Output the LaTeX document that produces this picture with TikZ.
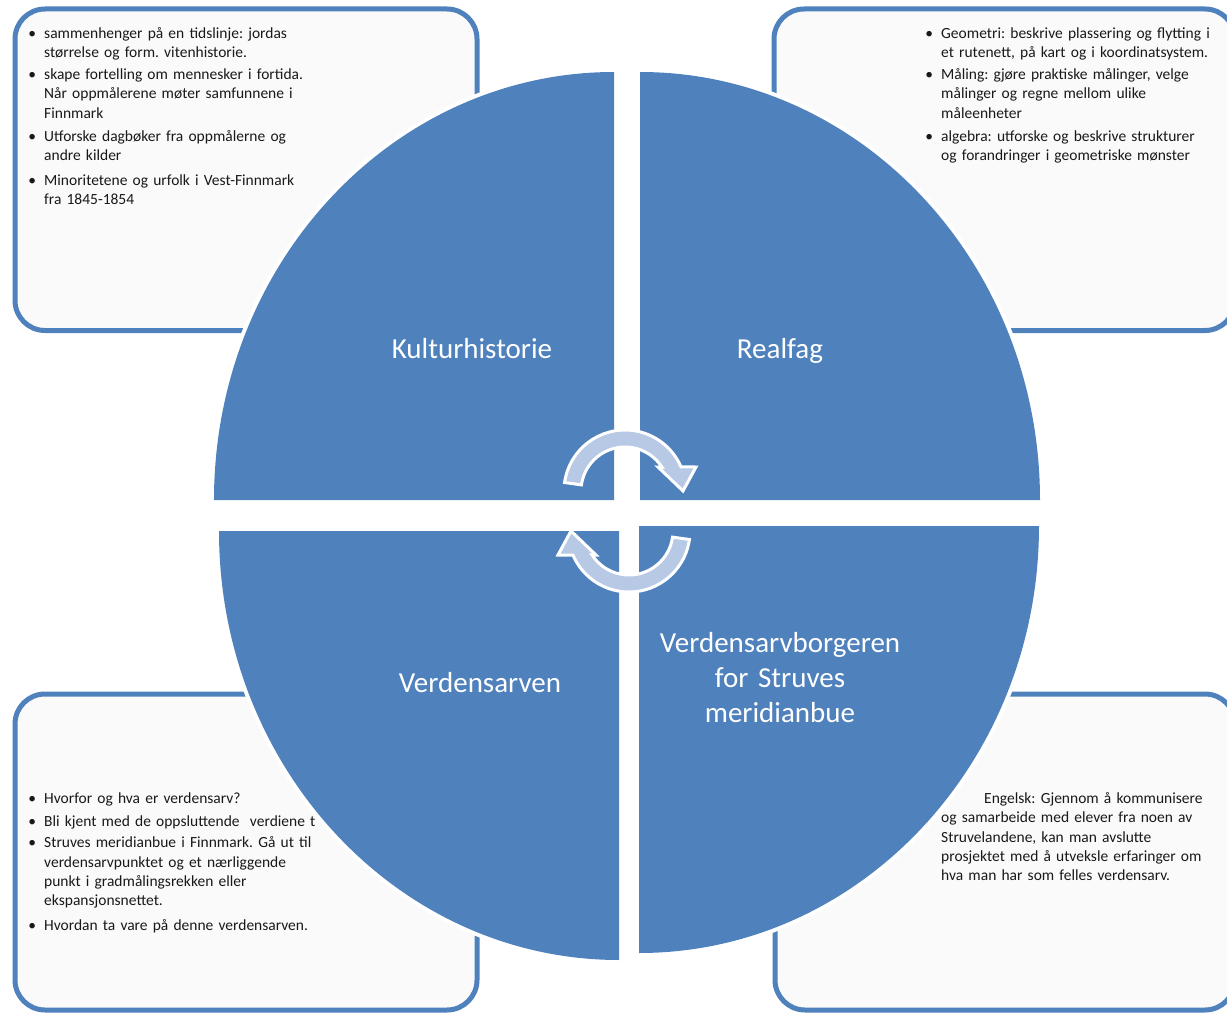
\documentclass[tikz,border=0pt]{standalone}
\usepackage{fontspec}
\setmainfont{Carlito}
\usetikzlibrary{calc}
\definecolor{qblue}{RGB}{79,129,189}
\definecolor{boxfill}{RGB}{250,250,250}
\definecolor{arrowfill}{RGB}{183,201,228}
\newcommand\bul{\llap{\textbullet\hspace{8pt}}}
\newcommand\cycpath{(-172:61) arc[start angle=-172,end angle=-23.2,radius=61] -- (71,-24) -- (58,0) -- (33,-24) -- (-33.05:44) arc[start angle=-33.05,end angle=-172,radius=44] -- cycle}
\frenchspacing
\tikzset{
  panel/.style={draw=qblue, line width=5pt, fill=boxfill, rounded corners=30pt},
  quad/.style={fill=qblue, preaction={draw=white, line width=8pt}},
  itemtext/.style={anchor=base west, inner sep=0pt, text width=330pt, align=left,
    font=\fontsize{15.5}{19.3}\selectfont\frenchspacing, text=black!90},
  qlabel/.style={anchor=base, inner sep=0pt, text width=330pt, align=center,
    font=\fontsize{29}{35}\selectfont, text=white},
  cyc/.style={fill=arrowfill, draw=white, line width=3pt}
}
\begin{document}
\begin{tikzpicture}[x=1pt,y=-1pt]
\useasboundingbox (0,0) rectangle (1227,1014);
\clip (0,0) rectangle (1227,1014);
\fill[white] (0,0) rectangle (1227,1014);

% panels
\path[panel] (15,9) rectangle (477,330.5);
\path[panel] (774,9) rectangle (1235,330.5);
\path[panel] (15,694) rectangle (477,1010);
\path[panel] (775,694) rectangle (1235,1010);

% panel texts
\node[itemtext] (tl1) at (44,38.5) {\bul sammenhenger på en tidslinje: jordas\\størrelse og form. vitenhistorie.};
\node[itemtext] (tl2) at (44,79.5) {\bul skape fortelling om mennesker i fortida.\\Når oppmålerene møter samfunnene i\\Finnmark};
\node[itemtext] (tl3) at (44,141.5) {\bul Utforske dagbøker fra oppmålerne og\\andre kilder};
\node[itemtext] (tl4) at (44,185.5) {\bul Minoritetene og urfolk i Vest-Finnmark\\fra 1845-1854};

\node[itemtext] (tr1) at (941,38.5) {\bul Geometri: beskrive plassering og flytting i\\et rutenett, på kart og i koordinatsystem.};
\node[itemtext] (tr2) at (941,79.5) {\bul Måling: gjøre praktiske målinger, velge\\målinger og regne mellom ulike\\måleenheter};
\node[itemtext] (tr3) at (941,141.5) {\bul algebra: utforske og beskrive strukturer\\og forandringer i geometriske mønster};

\node[itemtext] (bl1) at (44,803.5) {\bul Hvorfor og hva er verdensarv?};
\node[itemtext] (bl2) at (44,826.2) {\bul Bli kjent med de oppsluttende~ verdiene t};
\node[itemtext] (bl3) at (44,847.8) {\bul Struves meridianbue i Finnmark. Gå ut til\\verdensarvpunktet og et nærliggende\\punkt i gradmålingsrekken eller\\ekspansjonsnettet.};
\node[itemtext] (bl4) at (44,930.2) {\bul Hvordan ta vare på denne verdensarven.};

\node[itemtext] (br1) at (941,803.5) {\hspace*{43pt}Engelsk: Gjennom å kommunisere\\og samarbeide med elever fra noen av\\Struvelandene, kan man avslutte\\prosjektet med å utveksle erfaringer om\\hva man har som felles verdensarv.};

% quadrants
\path[quad] (614,500) -- (214,500) arc[start angle=180,end angle=270,x radius=400,y radius=428] -- cycle;
\path[quad] (640,500) -- (640,72) arc[start angle=270,end angle=360,x radius=400,y radius=428] -- cycle;
\path[quad] (619,531) -- (219,531) arc[start angle=180,end angle=90,x radius=400,y radius=429] -- cycle;
\path[quad] (639,526) -- (1039,526) arc[start angle=0,end angle=90,x radius=400,y radius=427] -- cycle;

% quadrant labels
\node[qlabel] (lk) at (472,358) {Kulturhistorie};
\node[qlabel] (lr) at (780,358) {Realfag};
\node[qlabel] (lv) at (480,692) {Verdensarven};
\node[qlabel] (lb) at (780,652) {Verdensarvborgeren\\for Struves\\meridianbue};

% cycle arrows
\begin{scope}[shift={(625,491)}]
  \path[cyc] \cycpath;
\end{scope}
\begin{scope}[shift={(629,531)},rotate=180]
  \path[cyc] \cycpath;
\end{scope}
\end{tikzpicture}
\end{document}
